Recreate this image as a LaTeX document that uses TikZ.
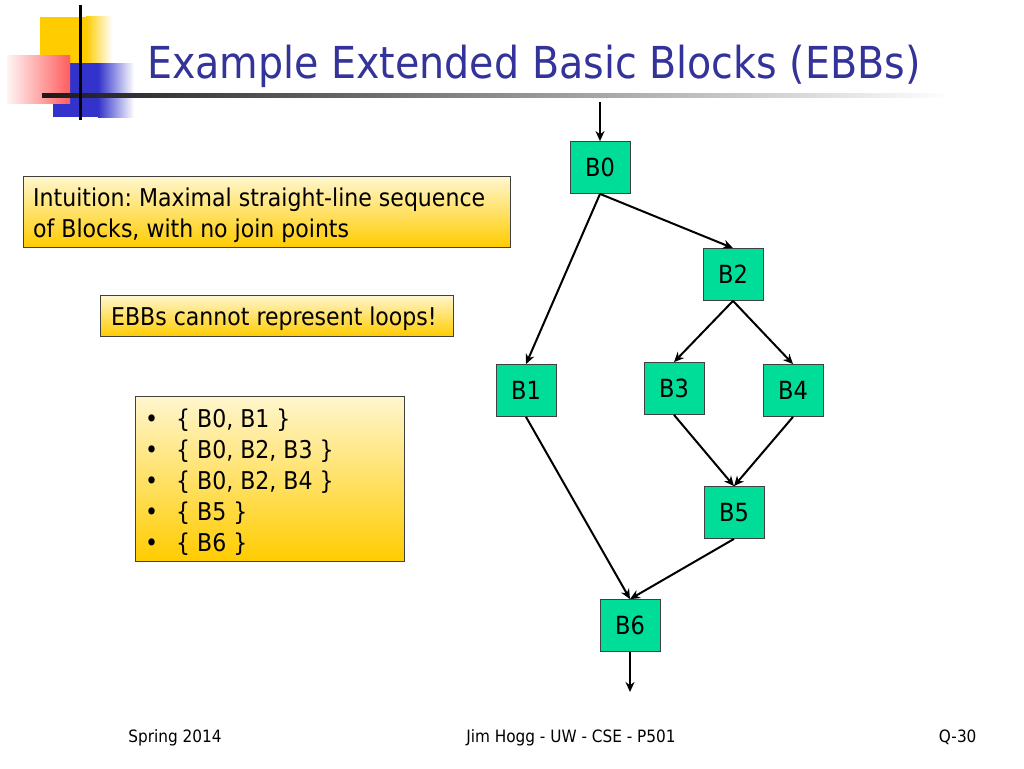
\documentclass[tikz,border=0pt]{standalone}
\usepackage{fontspec}
\setmainfont{DejaVu Sans Condensed}
\usetikzlibrary{arrows.meta}
\definecolor{nodegreen}{RGB}{0,221,153}
\definecolor{titleblue}{RGB}{51,51,153}
\definecolor{boxtop}{RGB}{255,246,206}
\definecolor{boxbot}{RGB}{255,204,0}
\definecolor{logoyellow}{RGB}{255,204,0}
\definecolor{logored}{RGB}{255,40,40}
\definecolor{logoblue}{RGB}{51,51,204}
\tikzset{
  blk/.style={draw=black!75, line width=0.8pt, fill=nodegreen, minimum width=60pt, minimum height=52pt, inner sep=0pt, font=\fontsize{25}{30}\selectfont},
  ybox/.style={draw=black!75, line width=0.8pt, top color=boxtop, bottom color=boxbot, inner sep=0pt, anchor=north west},
  btxt/.style={anchor=west, align=left, inner sep=0pt, font=\fontsize{24.5}{31}\selectfont},
  edge/.style={-{Stealth[length=10pt,width=9pt]}, line width=2pt},
  foot/.style={font=\fontsize{17}{19}\selectfont, anchor=base}
}
\begin{document}
\frenchspacing
\begin{tikzpicture}[x=1pt,y=-1pt]
\useasboundingbox (0,0) rectangle (1024,768);
\fill[white] (0,0) rectangle (1024,768);
% logo
\fill[logoyellow] (40,17) rectangle (86,80);
\shade[left color=logoyellow, right color=white] (86,17) rectangle (112,80);
\fill[logoblue] (53,63) rectangle (98,117);
\shade[left color=logoblue, right color=white] (98,63) rectangle (134,117);
\shade[left color=logored!5, right color=logored!75] (7,56) rectangle (70,103);
\shade[left color=black!90, right color=white] (42,93) rectangle (950,97);
\draw[line width=3pt] (80,5) -- (80,120);
% title
\node[anchor=base west, text=titleblue, font=\fontsize{44}{50}\selectfont, inner sep=0pt] (title) at (147,78) {Example Extended Basic Blocks (EBBs)};
% yellow boxes
\node[ybox, minimum width=487pt, minimum height=71pt] (intubox) at (23,176) {};
\node[btxt] (intu) at (33,215) {Intuition: Maximal straight-line sequence\\of Blocks, with no join points};
\node[ybox, minimum width=353pt, minimum height=41pt] (loopsbox) at (100,295) {};
\node[btxt] (loops) at (111,318.5) {EBBs cannot represent loops!};
\node[ybox, minimum width=269pt, minimum height=165pt] (listbox) at (135,396) {};
\node[btxt] (list) at (145,482) {%
\makebox[31pt][l]{•}\{ B0, B1 \}\\
\makebox[31pt][l]{•}\{ B0, B2, B3 \}\\
\makebox[31pt][l]{•}\{ B0, B2, B4 \}\\
\makebox[31pt][l]{•}\{ B5 \}\\
\makebox[31pt][l]{•}\{ B6 \}};
% graph
\node[blk] (b0) at (600,167.5) {B0};
\node[blk] (b2) at (733,274.5) {B2};
\node[blk] (b1) at (526,390.5) {B1};
\node[blk] (b3) at (674,388.5) {B3};
\node[blk] (b4) at (793,390.5) {B4};
\node[blk] (b5) at (734,512.5) {B5};
\node[blk] (b6) at (630,625.5) {B6};
\coordinate (in) at (600,102);
\coordinate (out) at (630,692);
\draw[edge] (in) -- (b0.north);
\draw[edge] (b0.south) -- (b1.north);
\draw[edge] (b0.south) -- (b2.north);
\draw[edge] (b2.south) -- (b3.north);
\draw[edge] (b2.south) -- (b4.north);
\draw[edge] (b3.south) -- (b5.north);
\draw[edge] (b4.south) -- (b5.north);
\draw[edge] (b1.south) -- (b6.north);
\draw[edge] (b5.south) -- (b6.north);
\draw[edge] (b6.south) -- (out);
% footer
\node[foot] (f1) at (175,742) {Spring 2014};
\node[foot] (f2) at (571,742) {Jim Hogg - UW - CSE - P501};
\node[foot, anchor=base east] (f3) at (980,742) {Q-30};
\end{tikzpicture}
\end{document}
